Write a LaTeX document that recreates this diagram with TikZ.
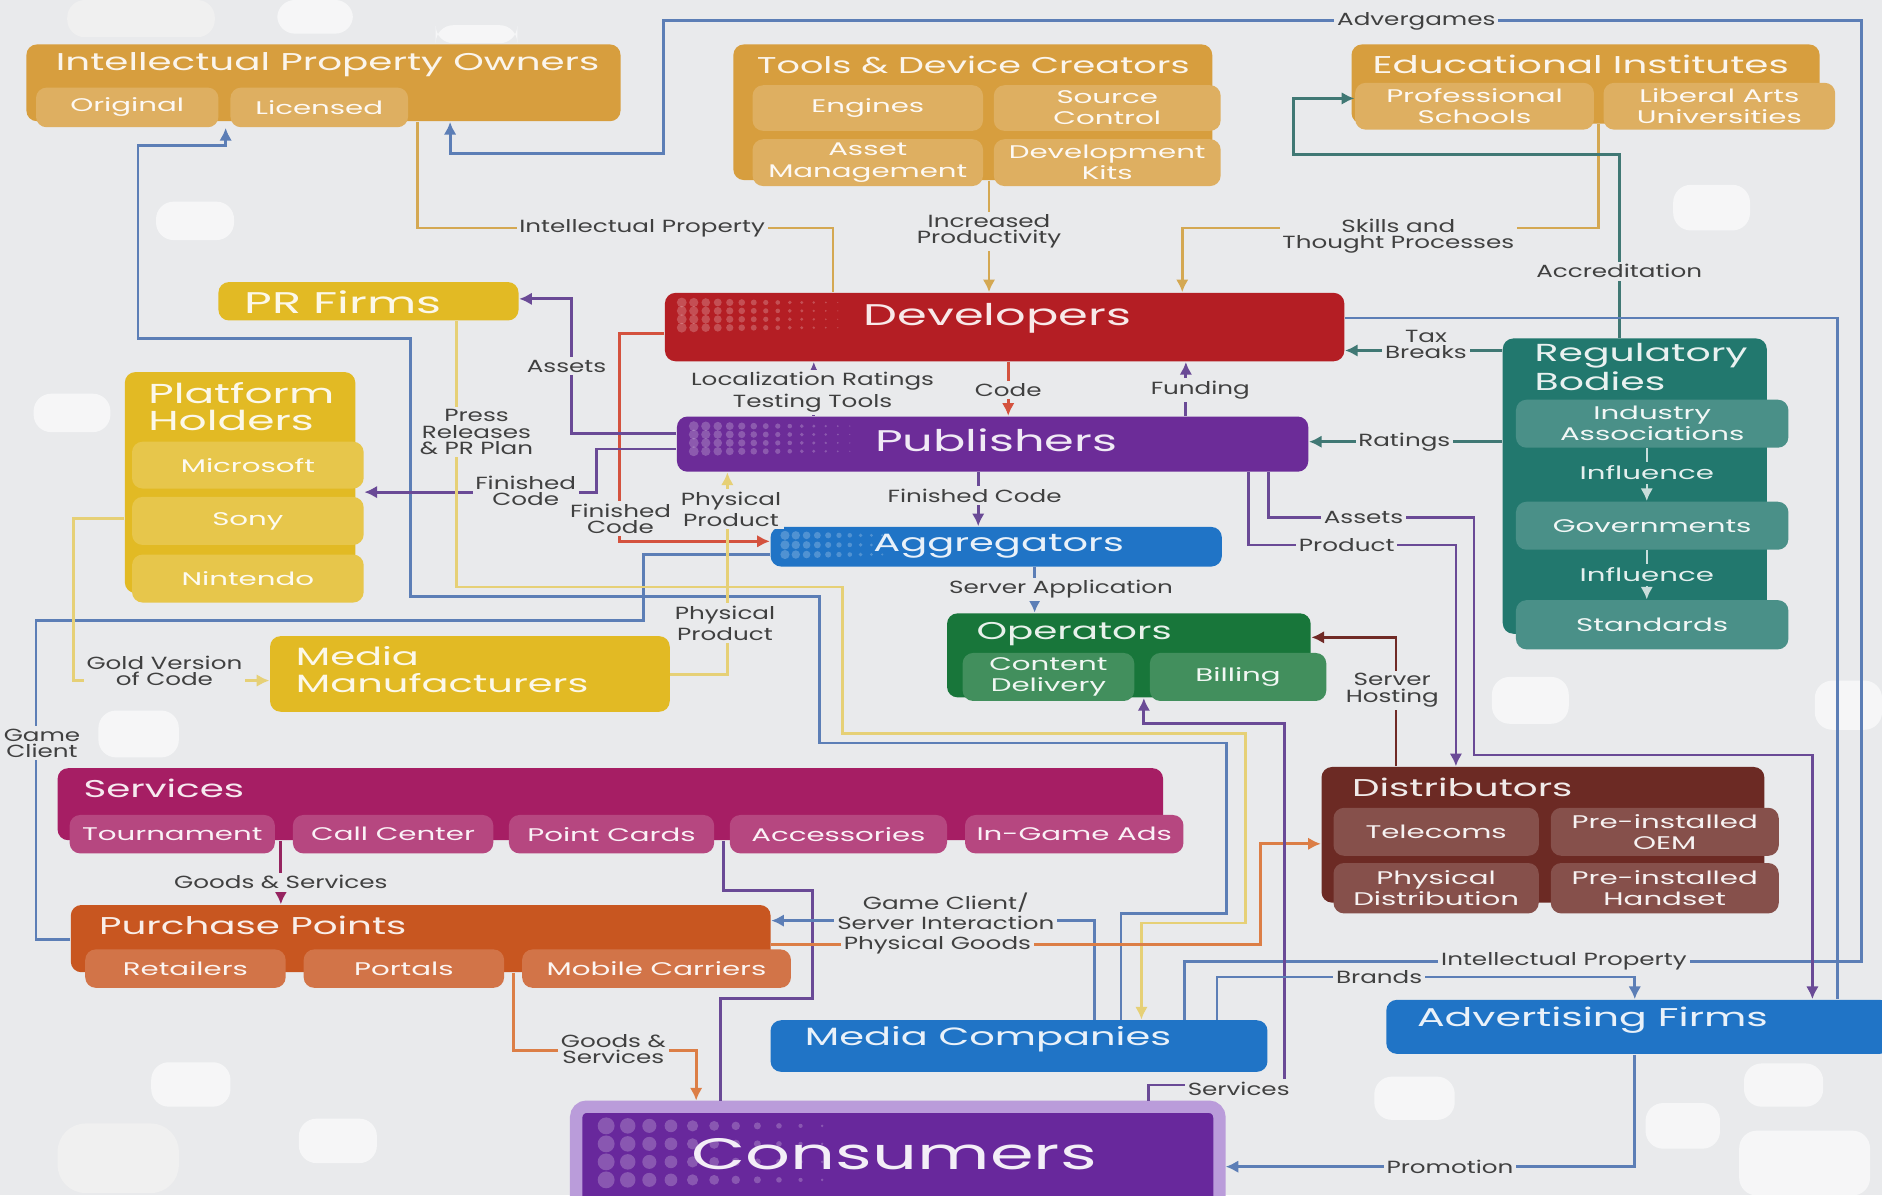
\documentclass[tikz,border=0pt]{standalone}
\usepackage{fontspec}
\setmainfont{Poppins}
\newfontfamily\wideface[FakeStretch=1.6]{Poppins}
\newfontfamily\tagface[FakeStretch=1.4]{Poppins}
\usetikzlibrary{arrows.meta}

\definecolor{bgc}{RGB}{233,234,236}
\definecolor{ochre}{RGB}{215,158,62}
\definecolor{gold}{RGB}{226,186,36}
\definecolor{devred}{RGB}{180,30,36}
\definecolor{pubpur}{RGB}{108,44,152}
\definecolor{aggblue}{RGB}{32,116,198}
\definecolor{opgreen}{RGB}{24,118,58}
\definecolor{regteal}{RGB}{34,120,110}
\definecolor{svcmag}{RGB}{166,30,100}
\definecolor{distbrown}{RGB}{108,42,36}
\definecolor{ppor}{RGB}{200,86,32}
\definecolor{conpur}{RGB}{104,40,156}
\definecolor{conrim}{RGB}{186,156,218}
\definecolor{lblue}{RGB}{92,126,182}
\definecolor{lochre}{RGB}{212,168,82}
\definecolor{lyel}{RGB}{230,208,118}
\definecolor{lpur}{RGB}{106,74,150}
\definecolor{lred}{RGB}{212,82,62}
\definecolor{lteal}{RGB}{64,120,116}
\definecolor{lbrown}{RGB}{112,42,38}
\definecolor{lorange}{RGB}{220,126,70}
\definecolor{lmag}{RGB}{150,36,96}

\newcommand{\fsect}{\wideface\fontsize{6.9}{7.3}\selectfont}
\newcommand{\fbig}{\wideface\fontsize{8.5}{9}\selectfont}
\newcommand{\fmid}{\wideface\fontsize{7.1}{8}\selectfont}
\newcommand{\fhuge}{\wideface\fontsize{12.5}{14}\selectfont}
\newcommand{\fsub}{\wideface\fontsize{5.2}{6}\selectfont}
\newcommand{\ftag}{\tagface\fontsize{5}{4.6}\selectfont}

\begin{document}
\begin{tikzpicture}[x=0.012cm, y=-0.012cm,
    sz/.style 2 args={minimum width=#1*0.012cm, minimum height=#2*0.012cm},
    box/.style={fill=#1, rounded corners=3pt, inner sep=0pt, text=white!90!#1},
    sub/.style={fill=#1!82!white, rounded corners=3pt, inner sep=0pt, text=white!94!#1, font=\fsub, align=center},
    ttl/.style={text=white!90!#1, font=\fsect, anchor=west, inner sep=0pt, align=left},
    ln/.style={draw=#1, line width=0.8pt},
    arr/.style={-{Latex[length=3.6pt,width=3.6pt]}},
    tag/.style={fill=bgc, inner sep=0.8pt, text=black!75, font=\ftag, align=center},
    blob/.style={fill=white, opacity=0.6, rounded corners=5pt}]

  \useasboundingbox (0,0) rectangle (1568,996);
  % Фон
  \fill[bgc] (0,0) rectangle (1568,996);
  \fill[black!6, rounded corners=5pt] (56,0) rectangle (179,31);
  \fill[black!6, rounded corners=8pt] (48,936) rectangle (149,994);
  \fill[blob] (231,0) rectangle (294,28);
  \fill[blob] (363,21) rectangle (431,36);
  \fill[blob] (130,168) rectangle (195,200);
  \fill[blob] (28,328) rectangle (92,360);
  \fill[blob] (82,592) rectangle (149,631);
  \fill[blob] (1394,154) rectangle (1458,192);
  \fill[blob] (1243,564) rectangle (1307,603);
  \fill[blob] (1512,567) rectangle (1568,608);
  \fill[blob] (126,885) rectangle (192,922);
  \fill[blob] (249,932) rectangle (314,969);
  \fill[blob] (1145,897) rectangle (1212,933);
  \fill[blob] (1371,919) rectangle (1433,957);
  \fill[blob] (1453,886) rectangle (1519,922);
  \fill[blob] (1449,942) rectangle (1558,996);

  % Владельцы интеллектуальной собственности
  \node[box=ochre, sz={495}{64}] (ipo) at (269.5,69) {};
  \node[ttl=ochre] (ipoT) at (46,54) {Intellectual Property Owners};
  \node[sub=ochre, sz={152}{33}] (orig) at (106,89.5) {Original};
  \node[sub=ochre, sz={148}{33}] (lic) at (266,89.5) {Licensed};

  % Инструменты
  \node[box=ochre, sz={399}{113}] (tdc) at (810.5,93.5) {};
  \node[ttl=ochre, font=\wideface\fontsize{6.5}{7}\selectfont] (tdcT) at (630,54) {Tools \& Device Creators};
  \node[sub=ochre, sz={192}{38}] (eng) at (723,90) {Engines};
  \node[sub=ochre, sz={189}{38}] (srcc) at (922.5,90) {Source\\Control};
  \node[sub=ochre, sz={192}{39}] (asset) at (723,135.5) {Asset\\Management};
  \node[sub=ochre, sz={189}{39}] (kits) at (922.5,135.5) {Development\\Kits};

  % Образование
  \node[box=ochre, sz={390}{66}] (edu) at (1321,70) {};
  \node[ttl=ochre] (eduT) at (1143,54) {Educational Institutes};
  \node[sub=ochre, sz={199}{39}] (prof) at (1228.5,88.5) {Professional\\Schools};
  \node[sub=ochre, sz={193}{39}] (arts) at (1432.5,88.5) {Liberal Arts\\Universities};

  % PR и платформы
  \node[box=gold, sz={250}{32}] (prf) at (307,251) {};
  \node[ttl=gold, font=\fbig] (prfT) at (203,252) {PR Firms};
  \node[box=gold, sz={192}{184}] (ph) at (200,402) {};
  \node[ttl=gold, font=\wideface\fontsize{7.8}{7.6}\selectfont] (phT) at (123,339) {Platform\\Holders};
  \node[sub=gold, sz={193}{39}] (msft) at (206.5,387.5) {Microsoft};
  \node[sub=gold, sz={193}{40}] (sony) at (206.5,434) {Sony};
  \node[sub=gold, sz={193}{40}] (nint) at (206.5,482) {Nintendo};
  \node[box=gold, sz={333}{63}] (mm) at (391.5,561.5) {};
  \node[ttl=gold, font=\wideface\fontsize{7.1}{7.5}\selectfont] (mmT) at (246,558) {Media\\Manufacturers};

  % Разработчики, издатели, агрегаторы
  \node[box=devred, sz={566}{57}] (dev) at (837,272.5) {};
  \node[box=pubpur, sz={526}{46}] (pub) at (827,370) {};
  \node[box=aggblue, sz={376}{33}] (agg) at (830,455.5) {};
  \foreach \i in {0,...,13}
    \foreach \j in {0,...,3} {
      \fill[white, opacity=0.22] (568+\i*10, 252+\j*7) circle ({1.4pt*(1-\i/15)});
      \fill[white, opacity=0.22] (578+\i*10, 355+\j*7) circle ({1.4pt*(1-\i/15)});
    }
  \foreach \i in {0,...,9}
    \foreach \j in {0,...,2}
      \fill[white, opacity=0.22] (654+\i*9, 446+\j*8) circle ({1.3pt*(1-\i/12)});
  \node[text=white!90!devred, font=\fbig] (devT) at (831,265) {Developers};
  \node[text=white!90!pubpur, font=\fbig] (pubT) at (830,367) {Publishers};
  \node[text=white!90!aggblue, font=\fmid] (aggT) at (832,455) {Aggregators};

  % Операторы
  \node[box=opgreen, sz={303}{70}] (op) at (940.5,546) {};
  \node[ttl=opgreen] (opT) at (813,528) {Operators};
  \node[sub=opgreen, sz={143}{40}] (cdel) at (873.5,564) {Content\\Delivery};
  \node[sub=opgreen, sz={147}{40}] (bill) at (1031.5,564) {Billing};

  % Регулирующие органы
  \node[box=regteal, sz={220}{246}] (reg) at (1362,405) {};
  \node[ttl=regteal, font=\wideface\fontsize{7.0}{6.4}\selectfont] (regT) at (1278,306) {Regulatory\\Bodies};
  \node[sub=regteal, sz={227}{40}] (ia) at (1376.5,353) {Industry\\Associations};
  \node[sub=regteal, sz={227}{40}] (gov) at (1376.5,438) {Governments};
  \node[sub=regteal, sz={227}{41}] (std) at (1376.5,520.5) {Standards};
  \draw[draw=white!75!regteal, line width=0.7pt, arr] (ia.south -| 1372,0) -- (gov.north -| 1372,0);
  \draw[draw=white!75!regteal, line width=0.7pt, arr] (gov.south -| 1372,0) -- (std.north -| 1372,0);
  \node[fill=regteal, text=white!88!regteal, font=\fsub, inner sep=1pt] (inf1) at (1372,394) {Influence};
  \node[fill=regteal, text=white!88!regteal, font=\fsub, inner sep=1pt] (inf2) at (1372,479) {Influence};

  % Сервисы
  \node[box=svcmag, sz={921}{60}] (svc) at (508.5,670) {};
  \node[ttl=svcmag] (svcT) at (69,657) {Services};
  \node[sub=svcmag, sz={171}{32}] (tour) at (143.5,695) {Tournament};
  \node[sub=svcmag, sz={167}{32}] (call) at (327.5,695) {Call Center};
  \node[sub=svcmag, sz={171}{32}] (pcard) at (509.5,695) {Point Cards};
  \node[sub=svcmag, sz={181}{32}] (acc) at (698.5,695) {Accessories};
  \node[sub=svcmag, sz={182}{32}] (ads) at (895,695) {In-Game Ads};

  % Дистрибьюторы
  \node[box=distbrown, sz={369}{113}] (dist) at (1285.5,695.5) {};
  \node[ttl=distbrown] (distT) at (1126,656) {Distributors};
  \node[sub=distbrown, sz={171}{40}] (tel) at (1196.5,693) {Telecoms};
  \node[sub=distbrown, sz={190}{40}] (oem) at (1387,693) {Pre-installed\\OEM};
  \node[sub=distbrown, sz={171}{42}] (phys) at (1196.5,740) {Physical\\Distribution};
  \node[sub=distbrown, sz={190}{42}] (hand) at (1387,740) {Pre-installed\\Handset};

  % Точки продаж
  \node[box=ppor, sz={583}{56}] (pp) at (350.5,782) {};
  \node[ttl=ppor] (ppT) at (82,771) {Purchase Points};
  \node[sub=ppor, sz={167}{32}] (ret) at (154.5,807) {Retailers};
  \node[sub=ppor, sz={167}{32}] (port) at (336.5,807) {Portals};
  \node[sub=ppor, sz={224}{32}] (mob) at (547,807) {Mobile Carriers};

  % Медиа, реклама, потребители
  \node[box=aggblue, sz={414}{43}] (medc) at (849,871.5) {};
  \node[ttl=aggblue, font=\fmid] (medcT) at (670,866) {Media Companies};
  \node[box=aggblue, sz={420}{45}] (adv) at (1365,855.5) {};
  \node[ttl=aggblue, font=\wideface\fontsize{7.3}{8}\selectfont] (advT) at (1180,850) {Advertising Firms};
  \node[box=conpur, draw=conrim, line width=3.5pt, sz={536}{88}] (cons) at (748,966) {};
  \foreach \i in {0,...,10}
    \foreach \j in {0,...,3}
      \fill[white, opacity=0.22] (505+\i*18, 938+\j*15) circle ({2.4pt*(1-\i/12)});
  \node[text=white!92!conpur, font=\fhuge] (consT) at (745,962) {Consumers};

  % Связи
  \draw[ln=lochre] (ipo.south -| 348,0) |- (694,190) -- (dev.north -| 694,0);
  \draw[ln=lochre, arr] (tdc.south -| 824,0) -- (dev.north -| 824,0);
  \draw[ln=lochre, arr] (edu.south -| 1332,0) |- (985,190) -- (dev.north -| 985,0);
  \draw[ln=lblue, arr] (medc.north -| 987,0) |- (1551,801) |- (553,17) |- (375,128) -- (ipo.south -| 375,0);
  \draw[ln=lblue, arr] (medc.north -| 934,0) |- (1022,761) |- (683,619) |- (342,497) |- (115,282) |- (188,121) -- (orig.south -| 188,0);
  \draw[ln=lblue] (pp.west |- 0,783) -| (30,517) -| (536,462) -- (agg.west |- 0,462);
  \draw[ln=lred, arr] (dev.west |- 0,278) -| (516,451) -- (agg.west |- 0,451);
  \draw[ln=lpur, arr] (pub.west |- 0,361) -| (476,249) -- (prf.east |- 0,249);
  \draw[ln=lpur, arr] (pub.west |- 0,374) -| (497,410) -- (msft.east |- 0,410);
  \draw[ln=lyel, arr] (prf.south -| 380,0) |- (702,489) |- (1038,611) |- (951,769) -- (medc.north -| 951,0);
  \draw[ln=lyel, arr] (mm.east |- 0,562) -| (pub.south -| 606,0);
  \draw[ln=lyel, arr] (ph.west |- 0,432) -| (61,567) -- (mm.west |- 0,567);
  \draw[ln=lpur, arr] (pub.north -| 678,0) -- (dev.south -| 678,0);
  \draw[ln=lred, arr] (dev.south -| 840,0) -- (pub.north -| 840,0);
  \draw[ln=lpur, arr] (pub.north -| 988,0) -- (dev.south -| 988,0);
  \draw[ln=lpur, arr] (pub.south -| 815,0) -- (agg.north -| 815,0);
  \draw[ln=lblue, arr] (agg.south -| 862,0) -- (op.north -| 862,0);
  \draw[ln=lteal, arr] (reg.west |- 0,292) -- (dev.east |- 0,292);
  \draw[ln=lteal, arr] (reg.west |- 0,368) -- (pub.east |- 0,368);
  \draw[ln=lteal, arr] (reg.north -| 1349,0) |- (1078,129) |- (prof.west |- 0,82);
  \draw[ln=lblue] (dev.east |- 0,265) -| (adv.north -| 1531,0);
  \draw[ln=lbrown, arr] (dist.north -| 1163,0) |- (op.east |- 0,531);
  \draw[ln=lpur, arr] (pub.south -| 1040,0) |- (1213,454) -- (dist.north -| 1213,0);
  \draw[ln=lpur, arr] (pub.south -| 1057,0) |- (1228,431) |- (1510,629) -- (adv.north -| 1510,0);
  \draw[ln=lmag, arr] (svc.south -| 234,0) -- (pp.north -| 234,0);
  \draw[ln=lorange, arr] (pp.south -| 428,0) |- (580,875) -- (cons.north -| 580,0);
  \draw[ln=lpur] (svc.south -| 603,0) |- (677,742) |- (600,832) -- (cons.north -| 600,0);
  \draw[ln=lblue, arr] (medc.north -| 912,0) |- (pp.east |- 0,767);
  \draw[ln=lorange, arr] (pp.east |- 0,787) -| (1050,703) -- (dist.west |- 0,703);
  \draw[ln=lpur, arr] (cons.north -| 957,0) |- (1070,904) |- (953,603) -- (op.south -| 953,0);
  \draw[ln=lblue, arr] (medc.north -| 1014,0) |- (1362,814) -- (adv.north -| 1362,0);
  \draw[ln=lblue, arr] (adv.south -| 1362,0) |- (cons.east |- 0,972);

  % Подписи
  \node[tag] (tIP) at (535,190) {Intellectual Property};
  \node[tag] (tInc) at (824,193) {Increased\\Productivity};
  \node[tag] (tSkill) at (1165,197) {Skills and\\Thought Processes};
  \node[tag] (tAdvg) at (1180,18) {Advergames};
  \node[tag] (tAccr) at (1349,226) {Accreditation};
  \node[tag] (tTax) at (1188,287) {Tax\\Breaks};
  \node[tag] (tRat) at (1170,368) {Ratings};
  \node[tag] (tAss1) at (472,305) {Assets};
  \node[tag] (tPress) at (397,360) {Press\\Releases\\\& PR Plan};
  \node[tag] (tLoc) at (677,327) {Localization Ratings\\Testing Tools};
  \node[tag] (tCode) at (840,325) {Code};
  \node[tag] (tFund) at (1000,325) {Funding};
  \node[tag] (tFin1) at (438,409) {Finished\\Code};
  \node[tag] (tFin2) at (517,432) {Finished\\Code};
  \node[tag] (tPhy1) at (609,424) {Physical\\Product};
  \node[tag] (tFin3) at (812,413) {Finished Code};
  \node[tag] (tAss2) at (1136,431) {Assets};
  \node[tag] (tProd) at (1122,454) {Product};
  \node[tag] (tSrv) at (884,491) {Server Application};
  \node[tag] (tPhy2) at (604,519) {Physical\\Product};
  \node[tag] (tGold) at (137,559) {Gold Version\\of Code};
  \node[tag] (tHost) at (1160,575) {Server\\Hosting};
  \node[tag] (tGame) at (35,619) {Game\\Client};
  \node[tag] (tGS1) at (234,735) {Goods \& Services};
  \node[tag] (tGCS) at (788,759) {Game Client/\\Server Interaction};
  \node[tag] (tPG) at (781,787) {Physical Goods};
  \node[tag] (tIP2) at (1303,801) {Intellectual Property};
  \node[tag] (tBr) at (1149,814) {Brands};
  \node[tag] (tGS2) at (511,874) {Goods \&\\Services};
  \node[tag] (tServ) at (1032,907) {Services};
  \node[tag] (tProm) at (1208,972) {Promotion};
\end{tikzpicture}
\end{document}
